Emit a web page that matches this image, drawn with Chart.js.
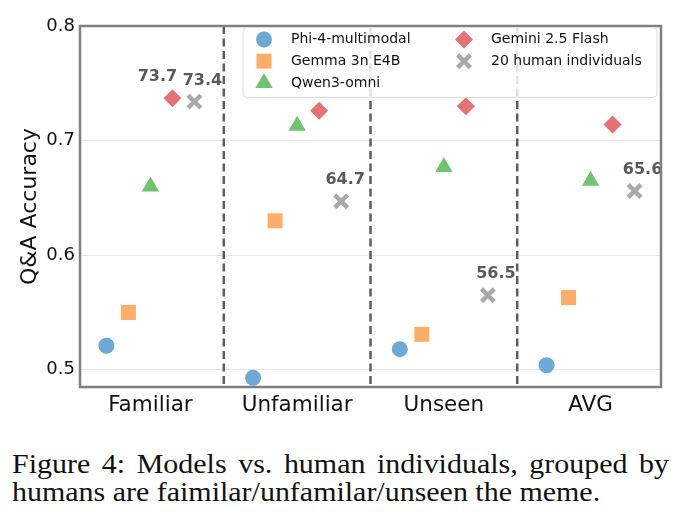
<!DOCTYPE html>
<html lang="en">
<head>
    <meta charset="UTF-8">
    <title>Models vs. human individuals</title>
    <script src="https://cdn.jsdelivr.net/npm/chart.js"></script>
    <style>
        body {
            margin: 0;
            background: #ffffff;
            width: 687px;
            height: 532px;
            overflow: hidden;
            position: relative;
        }
        .chart-box {
            position: absolute;
            left: 0;
            top: 0;
            width: 687px;
            height: 425px;
        }
        .caption {
            position: absolute;
            left: 12px;
            top: 450px;
            width: 614px;
            font-family: 'Liberation Serif', 'Times New Roman', serif;
            font-size: 28px;
            line-height: 27.5px;
            color: #111;
            transform: scaleX(1.07);
            transform-origin: left top;
        }
        .caption .first {
            text-align: justify;
            text-align-last: justify;
        }
    </style>
</head>
<body>
    <div class="chart-box">
        <canvas id="scatterChart"></canvas>
    </div>
    <div class="caption">
        <div class="first">Figure 4: Models vs. human individuals, grouped by</div>
        <div>humans are faimilar/unfamilar/unseen the meme.</div>
    </div>

    <script>
        // data
        const categories = ['Familiar', 'Unfamiliar', 'Unseen', 'AVG'];
        const seriesNames = ['Phi-4-multimodal', 'Gemma 3n E4B', 'Qwen3-omni', 'Gemini 2.5 Flash', '20 human individuals'];
        const phiScores = [0.521, 0.493, 0.518, 0.504];
        const gemmaScores = [0.550, 0.630, 0.531, 0.563];
        const qwenScores = [0.660, 0.713, 0.677, 0.665];
        const geminiScores = [0.737, 0.726, 0.730, 0.714];
        const humanScores = [0.734, 0.647, 0.565, 0.656];
        const geminiLabels = ['73.7', null, null, null];
        const humanLabels = ['73.4', '64.7', '56.5', '65.6'];
        const yTicks = [0.5, 0.6, 0.7, 0.8];

        // styling
        const groupOffsets = [-0.3, -0.15, 0, 0.15, 0.3];
        const styles = [
            { color: '#6fa8d4', pointStyle: 'circle', radius: 8, borderWidth: 0 },
            { color: '#ffad68', pointStyle: 'rect', radius: 10.6, borderWidth: 0 },
            { color: '#72c272', pointStyle: 'triangle', radius: 10, borderWidth: 0 },
            { color: '#e27274', pointStyle: 'rectRot', radius: 9, borderWidth: 0 },
            { color: '#a9a9a9', pointStyle: 'crossRot', radius: 9, borderWidth: 4.5 }
        ];
        const allScores = [phiScores, gemmaScores, qwenScores, geminiScores, humanScores];
        const allLabels = [null, null, null, geminiLabels, humanLabels];
        // nudges so the two Familiar labels do not overlap
        const labelShift = [[0, 0, 0, 0], [0, 0, 0, 0], [0, 0, 0, 0], [-15, 0, 0, 0], [8, 4, 8, 8]];

        const datasets = allScores.map((scores, s) => ({
            label: seriesNames[s],
            data: scores.map((v, i) => ({ x: i + groupOffsets[s], y: v })),
            backgroundColor: styles[s].color,
            borderColor: styles[s].color,
            borderWidth: styles[s].borderWidth,
            pointStyle: styles[s].pointStyle,
            pointRadius: styles[s].radius,
            pointHoverRadius: styles[s].radius
        }));

        const FONT = "'DejaVu Sans', sans-serif";

        const separators = {
            id: 'separators',
            beforeDatasetsDraw(chart) {
                const { ctx, chartArea, scales } = chart;
                ctx.save();
                ctx.strokeStyle = '#5e5e5e';
                ctx.lineWidth = 2.5;
                ctx.setLineDash([8, 4.5]);
                for (let i = 0; i < categories.length - 1; i++) {
                    const x = scales.x.getPixelForValue(i + 0.5);
                    ctx.beginPath();
                    ctx.moveTo(x, chartArea.top);
                    ctx.lineTo(x, chartArea.bottom);
                    ctx.stroke();
                }
                ctx.restore();
            }
        };

        const overlay = {
            id: 'overlay',
            afterDatasetsDraw(chart) {
                const { ctx, chartArea } = chart;

                // value labels
                ctx.save();
                ctx.beginPath();
                ctx.rect(chartArea.left, chartArea.top, chartArea.width, chartArea.height);
                ctx.clip();
                ctx.font = 'bold 16px ' + FONT;
                ctx.fillStyle = '#5a5a5a';
                ctx.textAlign = 'center';
                ctx.textBaseline = 'middle';
                allLabels.forEach((labels, s) => {
                    if (!labels) return;
                    const meta = chart.getDatasetMeta(s);
                    labels.forEach((txt, i) => {
                        if (!txt) return;
                        const pt = meta.data[i];
                        ctx.fillText(txt, pt.x + labelShift[s][i], pt.y - 21);
                    });
                });
                ctx.restore();

                // frame
                ctx.save();
                ctx.strokeStyle = '#808080';
                ctx.lineWidth = 2.5;
                ctx.strokeRect(chartArea.left, chartArea.top, chartArea.width, chartArea.height);
                ctx.restore();

                // legend, two columns in the top right corner
                const boxR = chartArea.right - 4;
                const boxL = boxR - 414;
                const boxT = chartArea.top + 1.5;
                const boxB = boxT + 70;
                ctx.save();
                ctx.fillStyle = 'rgba(255,255,255,0.82)';
                ctx.strokeStyle = '#dddddd';
                ctx.lineWidth = 1;
                ctx.beginPath();
                ctx.roundRect(boxL, boxT, boxR - boxL, boxB - boxT, 4);
                ctx.fill();
                ctx.stroke();
                ctx.font = '14px ' + FONT;
                ctx.textAlign = 'left';
                ctx.textBaseline = 'middle';
                seriesNames.forEach((name, s) => {
                    const col = s < 3 ? 0 : 1;
                    const row = s < 3 ? s : s - 3;
                    const mx = boxL + 21 + col * 200;
                    const my = boxT + 12 + row * 21.7;
                    const st = styles[s];
                    ctx.fillStyle = st.color;
                    ctx.strokeStyle = st.color;
                    ctx.lineWidth = st.borderWidth;
                    Chart.helpers.drawPoint(ctx, {
                        pointStyle: st.pointStyle,
                        radius: st.radius,
                        rotation: 0,
                        borderWidth: st.borderWidth
                    }, mx, my);
                    ctx.fillStyle = '#111111';
                    ctx.fillText(name, mx + 27, my);
                });
                ctx.restore();
            }
        };

        new Chart(document.getElementById('scatterChart'), {
            type: 'scatter',
            data: { datasets: datasets },
            options: {
                responsive: true,
                maintainAspectRatio: false,
                animation: false,
                layout: { padding: { left: 0, right: 26, top: 26, bottom: 0 } },
                plugins: {
                    legend: { display: false },
                    tooltip: { enabled: false }
                },
                scales: {
                    x: {
                        type: 'linear',
                        min: -0.48,
                        max: 3.48,
                        afterBuildTicks: (scale) => { scale.ticks = categories.map((c, i) => ({ value: i })); },
                        afterFit: (scale) => { scale.height = 38; },
                        grid: { display: false, drawTicks: false },
                        border: { display: false },
                        ticks: {
                            padding: 6,
                            color: '#111111',
                            font: { family: FONT, size: 21.5 },
                            callback: (v) => categories[v]
                        }
                    },
                    y: {
                        min: 0.485,
                        max: 0.8,
                        afterBuildTicks: (scale) => { scale.ticks = yTicks.map(v => ({ value: v })); },
                        afterFit: (scale) => { scale.width = 80; },
                        grid: { color: '#e6e6e6', lineWidth: 1, drawTicks: false },
                        border: { display: false },
                        title: {
                            display: true,
                            text: 'Q&A Accuracy',
                            color: '#111111',
                            font: { family: FONT, size: 22 },
                            padding: { top: 17, bottom: 0 }
                        },
                        ticks: {
                            padding: 5,
                            color: '#111111',
                            font: { family: FONT, size: 18 },
                            callback: (v) => v.toFixed(1)
                        }
                    }
                }
            },
            plugins: [separators, overlay]
        });
    </script>
</body>
</html>
